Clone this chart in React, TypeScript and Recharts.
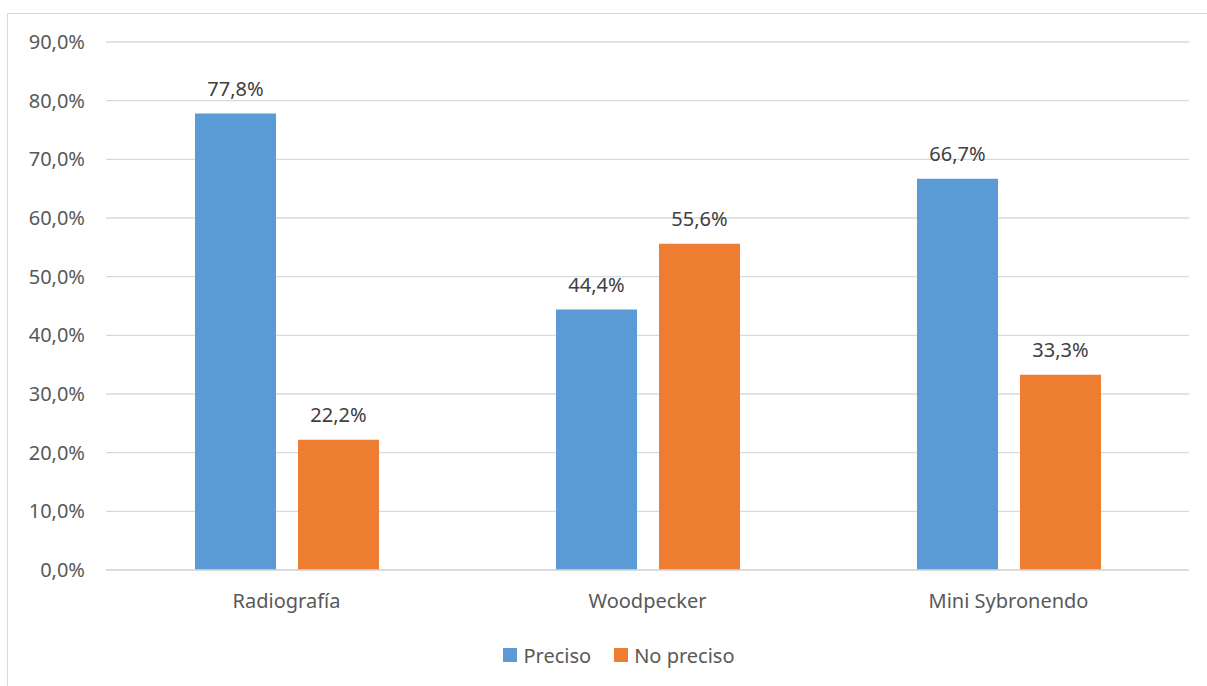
import React from 'react';
import { BarChart, Bar, XAxis, YAxis, CartesianGrid, Legend, LabelList } from 'recharts';

const categories = ['Radiografía', 'Woodpecker', 'Mini Sybronendo'];
const preciso = [77.8, 44.4, 66.7];
const noPreciso = [22.2, 55.6, 33.3];
const yTicks = [0, 10, 20, 30, 40, 50, 60, 70, 80, 90];

const data = categories.map((name, i) => ({ name, preciso: preciso[i], noPreciso: noPreciso[i] }));

const FONT = '"Noto Sans", "Open Sans", sans-serif';
const BLUE = '#5B9BD5';
const ORANGE = '#ED7D31';
const TEXT = '#595959';

const fmt = (v: number) => v.toFixed(1).replace('.', ',') + '%';

const LegendContent = () => (
  <div style={{ display: 'flex', justifyContent: 'center', alignItems: 'center', height: 30, paddingLeft: 40, fontFamily: FONT, fontSize: 20, color: TEXT }}>
    <span style={{ display: 'inline-block', width: 14, height: 14, background: BLUE, marginRight: 6 }} />
    <span style={{ marginRight: 23 }}>Preciso</span>
    <span style={{ display: 'inline-block', width: 14, height: 14, background: ORANGE, marginRight: 6 }} />
    <span>No preciso</span>
  </div>
);

export default function App() {
  return (
    <div
      style={{
        position: 'fixed',
        left: 7,
        top: 13,
        width: 1200,
        height: 673,
        border: '1px solid #d9d9d9',
        background: '#fff',
      }}
    >
      <BarChart
        width={1200}
        height={673}
        data={data}
        margin={{ top: 28, right: 19, bottom: 17, left: 1 }}
        barGap={22}
        barSize={81}
      >
        <CartesianGrid vertical={false} stroke="#d9d9d9" strokeWidth={1.3} />
        <XAxis
          dataKey="name"
          height={70}
          tickLine={false}
          axisLine={{ stroke: '#d9d9d9', strokeWidth: 1.3 }}
          tickSize={0}
          tickMargin={24}
          tick={{ fill: TEXT, fontSize: 20, fontFamily: FONT }}
        />
        <YAxis
          width={97}
          domain={[0, 90]}
          ticks={yTicks}
          tickFormatter={fmt}
          axisLine={false}
          tickLine={false}
          tickSize={0}
          tickMargin={21}
          tick={{ fill: TEXT, fontSize: 20, fontFamily: FONT }}
        />
        <Legend verticalAlign="bottom" height={30} content={<LegendContent />} />
        <Bar dataKey="preciso" fill={BLUE} isAnimationActive={false}>
          <LabelList dataKey="preciso" position="top" offset={18} formatter={(v: any) => fmt(Number(v))} style={{ fill: '#404040', fontSize: 20, fontFamily: FONT }} />
        </Bar>
        <Bar dataKey="noPreciso" fill={ORANGE} isAnimationActive={false}>
          <LabelList dataKey="noPreciso" position="top" offset={18} formatter={(v: any) => fmt(Number(v))} style={{ fill: '#404040', fontSize: 20, fontFamily: FONT }} />
        </Bar>
      </BarChart>
    </div>
  );
}
